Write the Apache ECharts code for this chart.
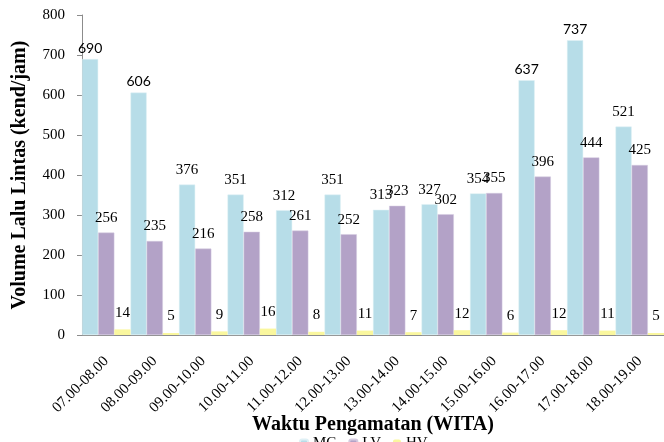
<!DOCTYPE html>
<html>
<head>
<meta charset="utf-8">
<script src="https://cdn.jsdelivr.net/npm/echarts@6/dist/echarts.min.js"></script>
<style>html,body{margin:0;padding:0;background:#fff;}#c{width:664px;height:442px;}</style>
</head>
<body>
<div id="c"></div>
<script>
const categories = ['07.00-08.00','08.00-09.00','09.00-10.00','10.00-11.00','11.00-12.00','12.00-13.00','13.00-14.00','14.00-15.00','15.00-16.00','16.00-17.00','17.00-18.00','18.00-19.00'];
const mcValues = [690, 606, 376, 351, 312, 351, 313, 327, 354, 637, 737, 521];
const lvValues = [256, 235, 216, 258, 261, 252, 323, 302, 355, 396, 444, 425];
const hvValues = [14, 5, 9, 16, 8, 11, 7, 12, 6, 12, 11, 5];
const yTicks = [0, 100, 200, 300, 400, 500, 600, 700, 800];
const seriesNames = ['MC', 'LV', 'HV'];

const serif = '"Liberation Serif", "DejaVu Serif", serif';
const sansIdx = [0, 1, 9, 10];
const mcData = mcValues.map((v, i) => sansIdx.includes(i)
  ? { value: v, label: { fontFamily: 'Lato, "Open Sans", sans-serif', fontSize: 14, distance: 4 } }
  : v);

const chart = echarts.init(document.getElementById('c'), null, { renderer: 'canvas' });
chart.setOption({
  animation: false,
  backgroundColor: '#ffffff',
  grid: { left: 82, right: 0, top: 15, bottom: 107, containLabel: false, outerBoundsMode: 'none' },
  legend: {
    data: seriesNames,
    top: 436,
    left: 299,
    padding: 0,
    itemWidth: 8, itemHeight: 8, itemGap: 12,
    textStyle: { fontFamily: serif, fontSize: 15, color: '#000' }
  },
  xAxis: {
    type: 'category',
    data: categories,
    name: 'Waktu Pengamatan (WITA)',
    nameLocation: 'middle',
    nameGap: 80,
    nameMoveOverlap: false,
    nameTextStyle: { fontFamily: serif, fontSize: 20, fontWeight: 'bold', color: '#000' },
    axisLine: { lineStyle: { color: '#8c8c8c' } },
    axisTick: { show: false },
    axisLabel: { rotate: 45, interval: 0, fontFamily: serif, fontSize: 15, color: '#000', margin: 24 }
  },
  yAxis: {
    type: 'value',
    min: yTicks[0], max: yTicks[yTicks.length - 1], interval: 100,
    name: 'Volume Lalu Lintas (kend/jam)',
    nameLocation: 'middle',
    nameGap: 52,
    nameMoveOverlap: false,
    nameTextStyle: { fontFamily: serif, fontSize: 20, fontWeight: 'bold', color: '#000' },
    axisLine: { show: true, lineStyle: { color: '#8c8c8c' } },
    axisTick: { show: true, length: 5, lineStyle: { color: '#8c8c8c' } },
    splitLine: { show: false },
    axisLabel: { fontFamily: serif, fontSize: 15, color: '#000', margin: 17 }
  },
  series: [
    {
      name: seriesNames[0], type: 'bar', data: mcData,
      barGap: '0%', barCategoryGap: '0%',
      itemStyle: { color: '#B7DDE8', borderColor: '#dff0f5', borderWidth: 0.5 },
      label: { show: true, position: 'top', distance: 7, fontFamily: serif, fontSize: 15, color: '#000' }
    },
    {
      name: seriesNames[1], type: 'bar', data: lvValues,
      barGap: '0%', barCategoryGap: '0%',
      itemStyle: { color: '#B3A2C7', borderColor: '#d5cbe0', borderWidth: 0.5 },
      label: { show: true, position: 'top', distance: 7, fontFamily: serif, fontSize: 15, color: '#000' }
    },
    {
      name: seriesNames[2], type: 'bar', data: hvValues,
      barGap: '0%', barCategoryGap: '0%',
      itemStyle: { color: '#FAF79E' },
      label: { show: true, position: 'top', distance: 9, fontFamily: serif, fontSize: 15, color: '#000' }
    }
  ]
});
</script>
</body>
</html>
